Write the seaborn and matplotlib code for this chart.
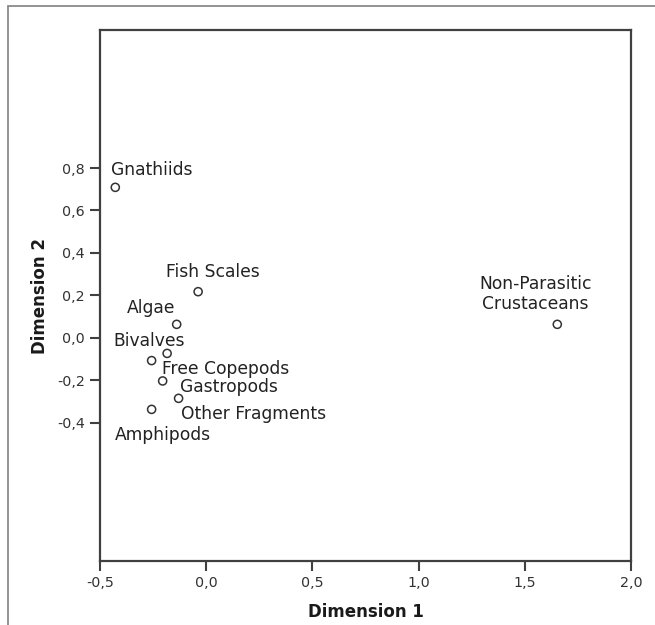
import matplotlib
matplotlib.use("Agg")
import matplotlib.pyplot as plt
import matplotlib.patches as mpatches
from matplotlib.ticker import FixedLocator, FuncFormatter
import seaborn as sns
import pandas as pd

# ---- data ----
categories = ["Gnathiids", "Fish Scales", "Algae", "Bivalves", "Free Copepods",
              "Gastropods", "Other Fragments", "Amphipods",
              "Non-Parasitic\nCrustaceans"]
dim1 = [-0.428, -0.038, -0.139, -0.257, -0.184, -0.205, -0.130, -0.257, 1.653]
dim2 = [0.709, 0.217, 0.063, -0.108, -0.074, -0.204, -0.286, -0.338, 0.063]
x_ticks = [-0.5, 0.0, 0.5, 1.0, 1.5, 2.0]
y_ticks = [-0.4, -0.2, 0.0, 0.2, 0.4, 0.6, 0.8]
x_title = "Dimension 1"
y_title = "Dimension 2"

# label offsets (pixels, relative to each point)
label_offsets = [(36, 17), (15, 20), (-26, 16), (-2, 20), (59, -16),
                 (66, -6), (75, -16), (11, -26), (-22, 30)]

df = pd.DataFrame({"label": categories, "dim1": dim1, "dim2": dim2})

sns.set_theme(style="white")
plt.rcParams["font.family"] = ["DejaVu Sans"]

fig = plt.figure(figsize=(6.55, 6.25), dpi=100)
ax = fig.add_axes([100 / 655, 1 - 561 / 625, 531 / 655, 531 / 625])

sns.scatterplot(data=df, x="dim1", y="dim2", ax=ax, marker="o", s=34,
                facecolors="none", edgecolor="#333333", linewidth=1.1,
                legend=False, zorder=3)

for lab, xv, yv, off in zip(df["label"], df["dim1"], df["dim2"], label_offsets):
    ax.annotate(lab, (xv, yv), xytext=off, textcoords="offset pixels",
                ha="center", va="center", fontsize=12.3, color="#222222",
                linespacing=1.15, zorder=4)

ax.set_xlim(-0.5, 2.0)
ax.set_ylim(-1.053, 1.451)
ax.xaxis.set_major_locator(FixedLocator(x_ticks))
ax.yaxis.set_major_locator(FixedLocator(y_ticks))
fmt = FuncFormatter(lambda v, p: f"{v:.1f}".replace(".", ","))
ax.xaxis.set_major_formatter(fmt)
ax.yaxis.set_major_formatter(fmt)
ax.tick_params(axis="both", direction="out", length=7, width=1.5,
               color="#404040", labelsize=10.3, labelcolor="#333333", pad=4,
               bottom=True, left=True)

ax.set_xlabel(x_title, fontsize=12, fontweight="bold", color="#1a1a1a", labelpad=9)
ax.set_ylabel(y_title, fontsize=12, fontweight="bold", color="#1a1a1a", labelpad=6)

for sp in ax.spines.values():
    sp.set_visible(True)
    sp.set_color("#404040")
    sp.set_linewidth(1.6)

# outer frame (cropped border)
frame = mpatches.Rectangle((8 / 655, -0.2), 1.2, 1.2 - 6 / 625,
                           transform=fig.transFigure, fill=False,
                           edgecolor="#8a8a8a", linewidth=1.3, clip_on=False)
fig.patches.append(frame)

fig.savefig("out.png", dpi=100, facecolor="white")
